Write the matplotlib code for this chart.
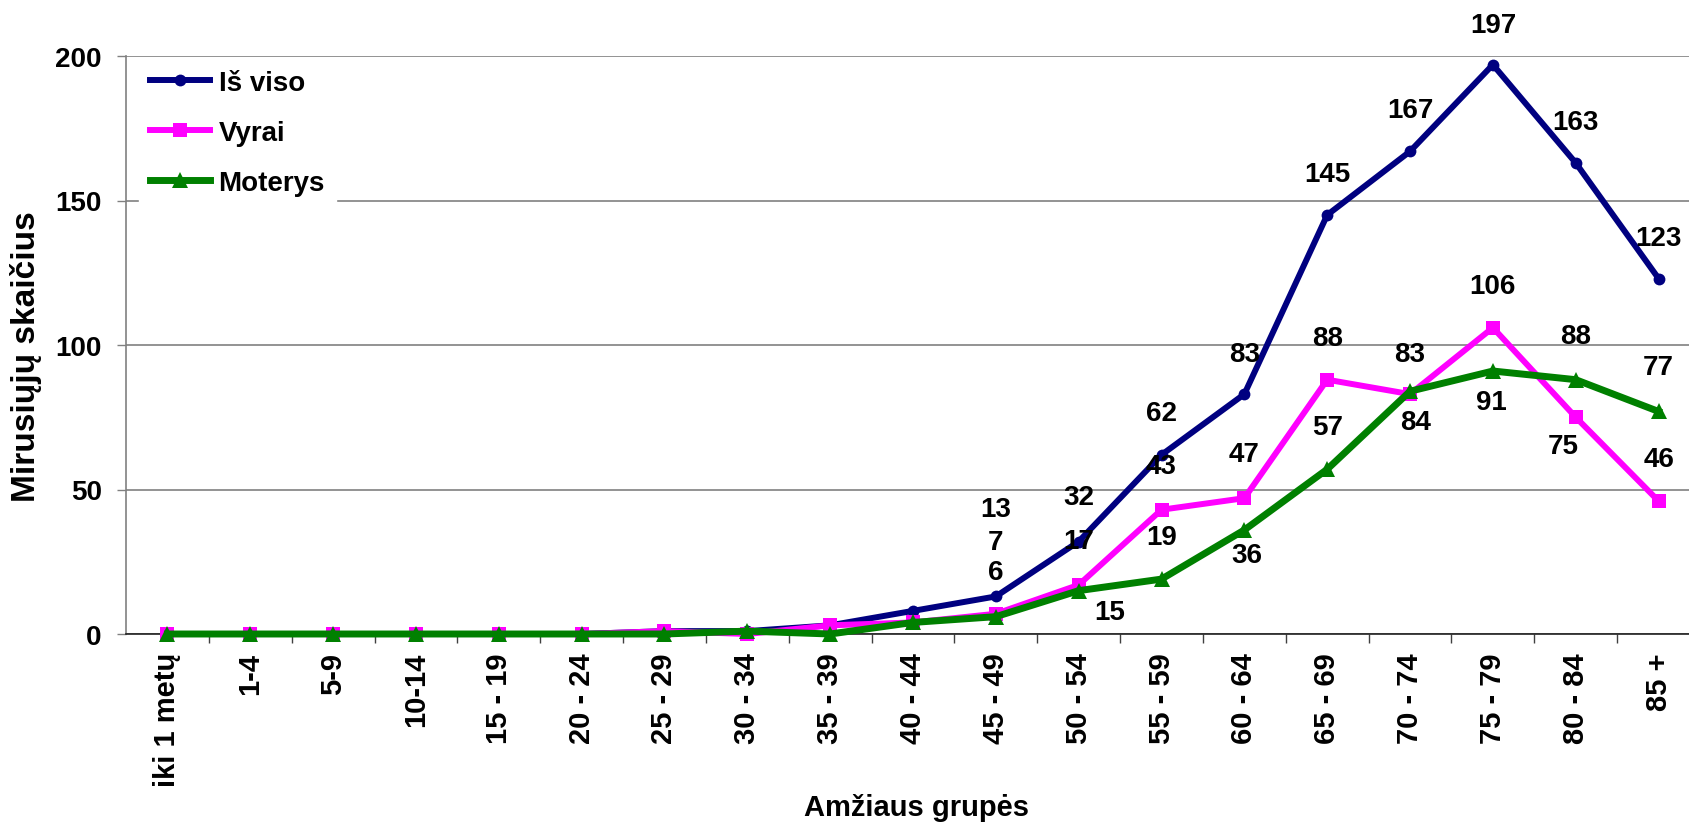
import matplotlib

matplotlib.use("Agg")

import matplotlib.pyplot as plt
from matplotlib.ticker import FixedLocator

plt.rcParams["font.family"] = ["Liberation Sans", "DejaVu Sans"]
plt.rcParams["font.weight"] = "bold"

# Mirusiųjų skaičius pagal amžiaus grupes
age_groups = [
    "iki 1 metų", "1-4", "5-9", "10-14", "15 - 19", "20 - 24", "25 - 29",
    "30 - 34", "35 - 39", "40 - 44", "45 - 49", "50 - 54", "55 - 59",
    "60 - 64", "65 - 69", "70 - 74", "75 - 79", "80 - 84", "85 +",
]
total = [0, 0, 0, 0, 0, 0, 1, 1, 3, 8, 13, 32, 62, 83, 145, 167, 197, 163, 123]
men = [0, 0, 0, 0, 0, 0, 1, 0, 3, 4, 7, 17, 43, 47, 88, 83, 106, 75, 46]
women = [0, 0, 0, 0, 0, 0, 0, 1, 0, 4, 6, 15, 19, 36, 57, 84, 91, 88, 77]

# value labels start at the 45-49 group
first_label = 10

# label offsets in pixels (dx, dy) for each labelled point
total_offsets = [(0, 87), (0, 45), (0, 42), (0, 40), (0, 41), (0, 41), (0, 40), (0, 41), (0, 41)]
men_offsets = [(0, 72), (0, 44), (0, 44), (0, 44), (0, 42), (0, 40), (0, 42), (-12, -29), (0, 42)]
women_offsets = [(0, 45), (31, -21), (0, 42), (2, -25), (0, 42), (6, -31), (-2, -31), (0, 44), (0, 44)]

W, H = 1690, 828
fig = plt.figure(figsize=(W / 100, H / 100), dpi=100)
left, right, top, bottom = 126, 1700, 57, 635
ax = fig.add_axes([left / W, 1 - bottom / H, (right - left) / W, (bottom - top) / H])

x = list(range(len(age_groups)))
series = [
    ("Iš viso", total, "#000080", "o", 8.5, 4.3, total_offsets),
    ("Vyrai", men, "#FF00FF", "s", 10, 4.3, men_offsets),
    ("Moterys", women, "#008000", "^", 12, 5.0, women_offsets),
]
for name, values, color, marker, ms, lw, offsets in series:
    ax.plot(x, values, color=color, marker=marker, markersize=ms, linewidth=lw,
            markeredgewidth=0, label=name, clip_on=False, zorder=3)
    for i, (dx, dy) in zip(range(first_label, len(values)), offsets):
        ax.annotate(str(values[i]), (i, values[i]), xytext=(dx, dy),
                    textcoords="offset pixels", ha="center", va="center",
                    fontsize=20, fontweight="bold", color="black", zorder=5)

ax.set_xlim(-0.5, len(age_groups) - 0.5)
ax.set_ylim(0, 200)
ax.set_yticks([0, 50, 100, 150, 200])
ax.yaxis.grid(True, color="#808080", linewidth=1.2)
ax.set_axisbelow(True)

ax.set_xticks(x)
ax.set_xticklabels(age_groups, rotation=90, fontsize=21, fontweight="bold")
ax.xaxis.set_minor_locator(FixedLocator([i + 0.5 for i in x]))
ax.tick_params(axis="x", which="major", length=0, pad=13)
ax.tick_params(axis="x", which="minor", length=6.5, width=1, color="#404040", direction="out")
ax.tick_params(axis="y", length=6.5, width=1, color="#808080", direction="out",
               labelsize=20, pad=11)
for lbl in ax.get_yticklabels():
    lbl.set_fontweight("bold")

for side in ("top", "right"):
    ax.spines[side].set_visible(False)
ax.spines["left"].set_color("#808080")
ax.spines["left"].set_linewidth(1.2)
ax.spines["bottom"].set_color("#202020")
ax.spines["bottom"].set_linewidth(1.2)

fig.text(26 / W, 1 - 357 / H, "Mirusiųjų skaičius", rotation=90, ha="center",
         va="center", fontsize=24, fontweight="bold")
fig.text(917 / W, 1 - 808 / H, "Amžiaus grupės", ha="center", va="center",
         fontsize=21, fontweight="bold")

leg = ax.legend(loc="upper left", bbox_to_anchor=(0.008, 0.995), borderaxespad=0,
                prop={"size": 20, "weight": "bold"}, handlelength=2.16,
                handletextpad=0.32, labelspacing=0.86, borderpad=0.4,
                frameon=True, fancybox=False)
leg.get_frame().set_facecolor("white")
leg.get_frame().set_edgecolor("white")
leg.get_frame().set_alpha(1)
leg.set_zorder(6)

fig.savefig("out.png", dpi=100)
